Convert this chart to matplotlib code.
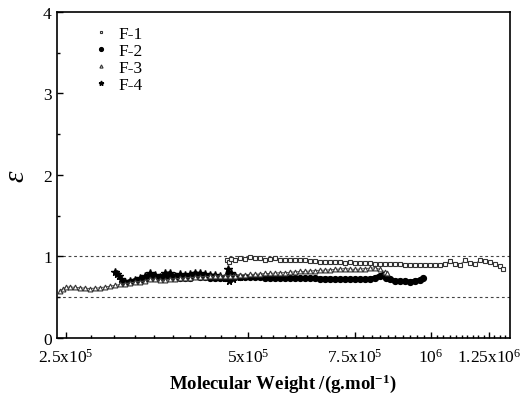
import matplotlib
matplotlib.use("Agg")
import matplotlib.pyplot as plt
from matplotlib.ticker import FixedLocator, MultipleLocator, NullFormatter

plt.rcParams['font.family'] = ['Liberation Serif', 'DejaVu Serif']
plt.rcParams['mathtext.fontset'] = 'custom'
plt.rcParams['mathtext.rm'] = 'Liberation Serif'
plt.rcParams['mathtext.it'] = 'Liberation Serif:italic'
plt.rcParams['mathtext.bf'] = 'Liberation Serif:bold'

# molecular weight in units of 1e5 g/mol, epsilon values
mw_f1 = [4.61, 4.65, 4.68, 4.75, 4.85, 4.94, 5.03, 5.13, 5.23, 5.33, 5.43, 5.53,
         5.64, 5.75, 5.86, 5.97, 6.09, 6.20, 6.32, 6.44, 6.57, 6.69, 6.82, 6.95,
         7.09, 7.22, 7.36, 7.50, 7.65, 7.79, 7.94, 8.10, 8.25, 8.41, 8.57, 8.73,
         8.90, 9.07, 9.25, 9.42, 9.61, 9.79, 9.98, 10.17, 10.36, 10.56, 10.77,
         10.97, 11.18, 11.40, 11.62, 11.84, 12.07, 12.30, 12.53, 12.77, 13.02, 13.17]
eps_f1 = [0.96, 0.93, 0.97, 0.96, 0.98, 0.97, 0.99, 0.98, 0.98, 0.95, 0.97, 0.98,
          0.96, 0.95, 0.96, 0.95, 0.95, 0.95, 0.94, 0.94, 0.935, 0.93, 0.925, 0.925,
          0.925, 0.92, 0.925, 0.92, 0.92, 0.915, 0.915, 0.91, 0.91, 0.91, 0.905, 0.905,
          0.905, 0.90, 0.90, 0.90, 0.895, 0.90, 0.90, 0.90, 0.90, 0.91, 0.94,
          0.91, 0.90, 0.95, 0.92, 0.91, 0.95, 0.94, 0.925, 0.91, 0.88, 0.85]

mw_f2 = [3.13, 3.19, 3.25, 3.31, 3.38, 3.44, 3.51, 3.57, 3.64, 3.71, 3.78, 3.86,
         3.93, 4.01, 4.08, 4.16, 4.24, 4.32, 4.41, 4.49, 4.58, 4.66, 4.75, 4.85,
         4.94, 5.03, 5.13, 5.23, 5.33, 5.43, 5.53, 5.64, 5.75, 5.86, 5.97, 6.09,
         6.20, 6.32, 6.44, 6.57, 6.69, 6.82, 6.95, 7.09, 7.22, 7.36, 7.50, 7.65,
         7.79, 7.94, 8.10, 8.25, 8.34, 8.44, 8.57, 8.73, 8.90, 9.07, 9.25, 9.42,
         9.61, 9.72]
eps_f2 = [0.67, 0.69, 0.70, 0.71, 0.72, 0.74, 0.74, 0.73, 0.75, 0.76, 0.74, 0.74,
          0.73, 0.74, 0.76, 0.75, 0.75, 0.74, 0.74, 0.74, 0.73, 0.74, 0.745, 0.745,
          0.745, 0.745, 0.745, 0.745, 0.74, 0.74, 0.74, 0.74, 0.735, 0.735, 0.735, 0.735,
          0.73, 0.73, 0.73, 0.725, 0.725, 0.725, 0.72, 0.72, 0.72, 0.72, 0.72, 0.72,
          0.72, 0.725, 0.74, 0.765, 0.77, 0.74, 0.72, 0.70, 0.70, 0.695, 0.69, 0.70,
          0.71, 0.73]

mw_f3 = [2.44, 2.47, 2.50, 2.54, 2.59, 2.64, 2.69, 2.74, 2.79, 2.85, 2.90, 2.96,
         3.01, 3.07, 3.13, 3.19, 3.25, 3.31, 3.38, 3.44, 3.51, 3.57, 3.64, 3.71,
         3.78, 3.86, 3.93, 4.01, 4.08, 4.16, 4.24, 4.32, 4.41, 4.49, 4.58, 4.66,
         4.75, 4.85, 4.94, 5.03, 5.13, 5.23, 5.33, 5.43, 5.53, 5.64, 5.75, 5.86,
         5.97, 6.09, 6.20, 6.32, 6.44, 6.57, 6.69, 6.82, 6.95, 7.09, 7.22, 7.36,
         7.50, 7.65, 7.79, 7.94, 8.10, 8.25, 8.41, 8.47]
eps_f3 = [0.57, 0.60, 0.62, 0.625, 0.62, 0.615, 0.61, 0.605, 0.61, 0.615, 0.625, 0.635,
          0.645, 0.655, 0.665, 0.675, 0.685, 0.69, 0.70, 0.72, 0.72, 0.705, 0.71, 0.72,
          0.725, 0.73, 0.735, 0.74, 0.745, 0.75, 0.75, 0.755, 0.755, 0.76, 0.76, 0.76,
          0.765, 0.77, 0.775, 0.78, 0.78, 0.785, 0.79, 0.79, 0.795, 0.80, 0.80, 0.805,
          0.81, 0.815, 0.815, 0.82, 0.825, 0.83, 0.83, 0.835, 0.84, 0.845, 0.85, 0.845,
          0.84, 0.845, 0.85, 0.855, 0.86, 0.84, 0.81, 0.79]

mw_f4 = [3.01, 3.04, 3.06, 3.08, 3.11, 3.13, 3.19, 3.25, 3.31, 3.38, 3.44, 3.51,
         3.57, 3.64, 3.71, 3.78, 3.86, 3.93, 4.01, 4.08, 4.16, 4.24, 4.32, 4.41,
         4.49, 4.58, 4.63, 4.65, 4.68, 4.72, 4.75, 4.85]
eps_f4 = [0.81, 0.78, 0.76, 0.72, 0.69, 0.69, 0.70, 0.71, 0.73, 0.76, 0.79, 0.77,
          0.75, 0.79, 0.80, 0.76, 0.78, 0.77, 0.78, 0.80, 0.79, 0.78, 0.77, 0.77,
          0.76, 0.74, 0.84, 0.70, 0.80, 0.72, 0.76, 0.75]

ref_lines = [1.0, 0.5]
x_ticks = [2.5e5, 5e5, 7.5e5, 1e6, 1.25e6]
x_tick_labels = [r'$\mathregular{2.5x10^{5}}$', r'$\mathregular{5x10^{5}}$',
                 r'$\mathregular{7.5x10^{5}}$', r'$\mathregular{10^{6}}$',
                 r'$\mathregular{1.25x10^{6}}$']
x_minor_step = 2.5e4

fig = plt.figure(figsize=(5.24, 4.02), dpi=100)
ax = fig.add_axes([0.108, 0.157, 0.865, 0.811])

for y in ref_lines:
    ax.axhline(y, color='#444444', lw=0.8, ls=(0, (2.5, 2.5)), zorder=1)

def scaled(mw):
    return [m * 1e5 for m in mw]

ax.plot(scaled(mw_f1), eps_f1, ls='-', lw=0.7, color='#555555', marker='s', ms=3.3,
        mfc='white', mec='#333333', mew=0.8, label='F-1', zorder=3)
ax.plot(scaled(mw_f2), eps_f2, ls='-', lw=3.0, color='black', marker='o', ms=4.2,
        mfc='black', mec='black', label='F-2', zorder=2)
ax.plot(scaled(mw_f3), eps_f3, ls='-', lw=0.7, color='#555555', marker='^', ms=3.5,
        mfc='white', mec='#333333', mew=0.8, label='F-3', zorder=3)
ax.plot(scaled(mw_f4), eps_f4, ls='-', lw=2.0, color='black', marker='*', ms=5.5,
        mfc='black', mec='black', label='F-4', zorder=2)

ax.set_xscale('log')
ax.set_xlim(2.413e5, 1.352e6)
ax.set_ylim(0, 4)

minor_x = []
v = x_ticks[0]
while v < 1.35e6:
    minor_x.append(v)
    v += x_minor_step
ax.xaxis.set_major_locator(FixedLocator(x_ticks))
ax.set_xticklabels(x_tick_labels)
ax.xaxis.set_minor_locator(FixedLocator(minor_x))
ax.xaxis.set_minor_formatter(NullFormatter())
ax.yaxis.set_major_locator(MultipleLocator(1))
ax.yaxis.set_minor_locator(MultipleLocator(0.5))

ax.tick_params(which='both', direction='in', top=False, right=False, labelsize=12.5, width=1)
ax.tick_params(axis='x', pad=7)
ax.tick_params(which='major', length=4.5)
ax.tick_params(which='minor', length=2.5)
for sp in ax.spines.values():
    sp.set_linewidth(1.2)

ax.set_xlabel(r'Molecular Weight /(g.mol$\mathregular{^{-1}}$)', fontsize=13.5,
              fontweight='bold', labelpad=4)
ax.set_ylabel('ε', fontsize=21, fontstyle='italic', labelpad=10)

leg = ax.legend(loc='upper left', bbox_to_anchor=(0.045, 1.005), frameon=False,
                fontsize=12.5, handlelength=1.0, handletextpad=0.5, labelspacing=0.05,
                markerscale=0.65)
for h in leg.legend_handles:
    h.set_linestyle('none')

fig.savefig('out.png', dpi=100)
